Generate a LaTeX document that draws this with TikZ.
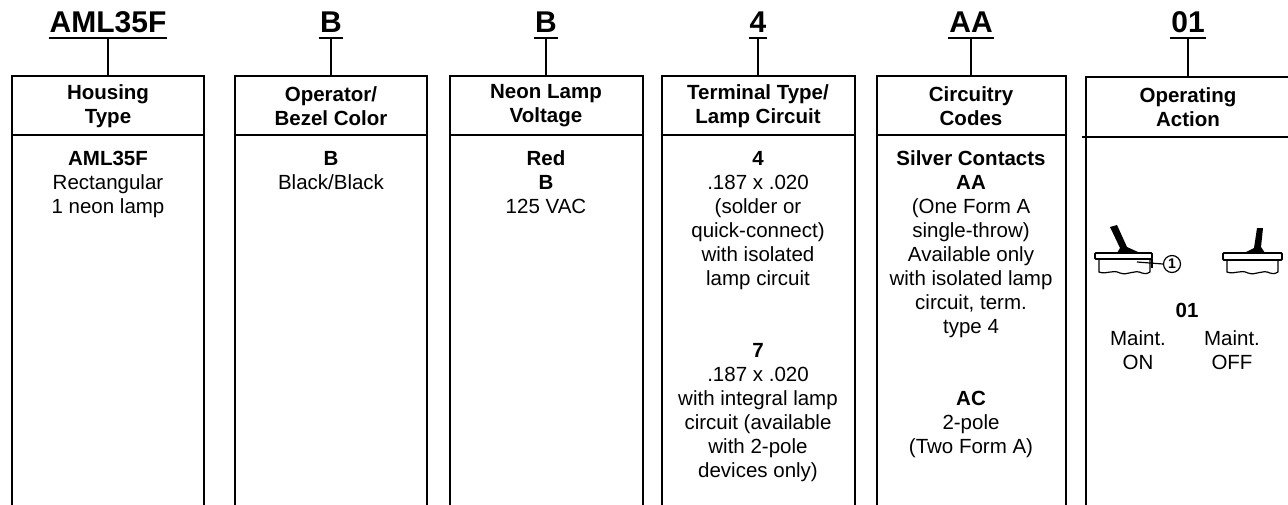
\documentclass[tikz,border=0pt]{standalone}
\usepackage{fontspec}
\setmainfont{Liberation Sans}
\begin{document}
\begin{tikzpicture}[x=1pt,y=-1pt,line width=2.2pt,
  code/.style={font=\fontsize{30}{36}\selectfont\bfseries,inner xsep=0pt,inner ysep=4pt,anchor=south},
  head/.style={font=\fontsize{20.5}{24}\selectfont\bfseries,align=center},
  body/.style={font=\fontsize{20.5}{24}\selectfont,align=center,anchor=north,inner sep=0pt},
  thin/.style={line width=1.2pt}]
\useasboundingbox (0,0) rectangle (1288,504);
% frames, open at the bottom
\foreach \l/\r in {12/204,235/427,450/643,662/855,877/1066}
{\draw (\l,506) -- (\l,76) -- (\r,76) -- (\r,506);
\draw (\l,135) -- (\r,135);}
\draw (1086,506) -- (1086,77) -- (1292,77);
\draw (1082,137) -- (1292,137);
% code letters with stems
\foreach \x/\txt/\n in {108/AML35F/1,331/B/2,546/B/3,758/4/4,971/AA/5,1188/01/6}
{\node[code] (lab\n) at (\x,38) {\txt};
\coordinate (top\n) at (\x,76);
\draw[line width=1.6pt] (lab\n.south west) -- (lab\n.south east);
\draw (lab\n.south) -- (top\n);}
% headers
\node[head] (h1) at (108,106) {Housing\\Type};
\node[head] (h2) at (331,106) {Operator/\\Bezel Color};
\node[head] (h3) at (546,106) {Neon Lamp\\Voltage};
\node[head] (h4) at (758,106) {Terminal Type/\\Lamp Circuit};
\node[head] (h5) at (971,106) {Circuitry\\Codes};
\node[head] (h6) at (1188,107) {Operating\\Action};
% column entries
\node[body] (b1) at (108,150) {\textbf{AML35F}\\Rectangular\\1 neon lamp};
\node[body] (b2) at (331,150) {\textbf{B}\\Black/Black};
\node[body] (b3) at (546,150) {\textbf{Red}\\\textbf{B}\\125 VAC};
\node[body] (b4) at (758,150) {\textbf{4}\\.187 x .020\\(solder or\\quick-connect)\\with isolated\\lamp circuit};
\node[body] (b4b) at (758,342) {\textbf{7}\\.187 x .020\\with integral lamp\\circuit (available\\with 2-pole\\devices only)};
\node[body] (b5) at (971,150) {\textbf{Silver Contacts}\\\textbf{AA}\\(One Form A\\single-throw)\\Available only\\with isolated lamp\\circuit, term.\\type 4};
\node[body] (b5b) at (971,390) {\textbf{AC}\\2-pole\\(Two Form A)};
% switch ON
\fill (1110,227) -- (1117,225) -- (1127,247) -- (1138,252) -- (1117,253) -- (1120,248) -- cycle;
\draw[line width=1.8pt,rounded corners=1pt] (1095,253) rectangle (1152,259);
\draw[thin] (1099,259) -- (1099,272) .. controls (1107,275) and (1112,269) .. (1120,273)
  .. controls (1128,276) and (1134,269) .. (1142,273) .. controls (1146,274) .. (1150,272) -- (1150,259);
\node[circle,draw,thin,inner sep=0pt,minimum size=17pt,font=\fontsize{14}{14}\selectfont\bfseries] (lamp) at (1172,264) {1};
\coordinate (tip) at (1137,262);
\draw[thin] (tip) -- (lamp.west);
\draw[thin] (1152,259) -- (1152,268);
% switch OFF
\fill (1257,228) -- (1263,228) -- (1261,247) -- (1265,253) -- (1244,253) -- (1254,248) -- cycle;
\draw[line width=1.8pt,rounded corners=1pt] (1223,253) rectangle (1282,260);
\draw[thin] (1227,260) -- (1227,272) .. controls (1235,275) and (1240,269) .. (1248,273)
  .. controls (1256,276) and (1262,269) .. (1270,273) .. controls (1274,274) .. (1278,272) -- (1278,260);
% action labels
\node[body] (act) at (1187,302) {\textbf{01}};
\node[body] (on) at (1138,330) {Maint.\\ON};
\node[body] (off) at (1232,330) {Maint.\\OFF};
\end{tikzpicture}
\end{document}
